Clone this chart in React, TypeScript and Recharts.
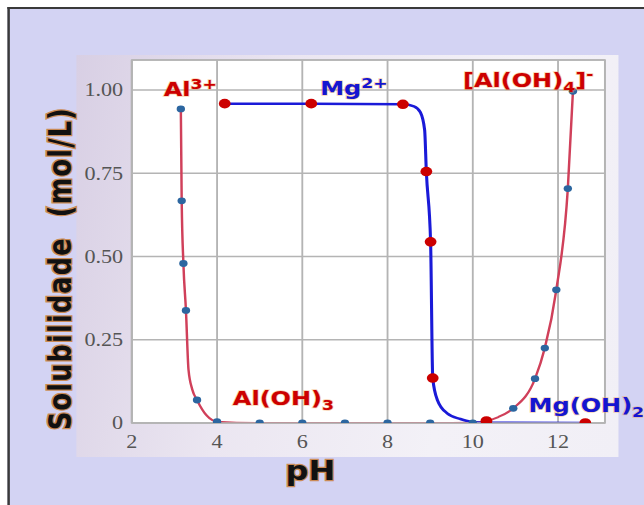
import React from "react";
import {
  ComposedChart,
  Line,
  Scatter,
  XAxis,
  YAxis,
  CartesianGrid,
  ReferenceDot,
  ReferenceArea,
} from "recharts";

const X_TICKS = [2, 4, 6, 8, 10, 12];
const Y_TICKS = [0, 0.25, 0.5, 0.75, 1];

// Al series (blue markers on the red curve)
const alDotPh = [3.15, 3.17, 3.21, 3.27, 3.53, 4.0, 5, 6, 7, 8, 9, 10, 10.95, 11.46, 11.69, 11.96, 12.23, 12.35];
const alDotSol = [0.943, 0.667, 0.479, 0.338, 0.069, 0.004, 0, 0, 0, 0, 0, 0, 0.044, 0.133, 0.225, 0.4, 0.704, 0.996];
const alCurvePh = [3.15, 3.17, 3.21, 3.27, 3.33, 3.42, 3.53, 3.76, 4.0, 5, 6, 7, 8, 9, 10, 10.6, 10.95, 11.46, 11.69, 11.96, 12.23, 12.35];
const alCurveSol = [0.943, 0.667, 0.479, 0.338, 0.16, 0.1, 0.069, 0.022, 0.004, 0, 0, 0, 0, 0, 0.001, 0.018, 0.044, 0.133, 0.225, 0.4, 0.704, 0.996];

// Mg series (red markers on the blue curve)
const mgDotPh = [4.18, 6.21, 8.36, 8.91, 9.01, 9.06, 10.32, 12.64];
const mgDotSol = [0.959, 0.959, 0.957, 0.755, 0.544, 0.135, 0.006, 0];
const mgCurvePh = [4.18, 6.21, 8.36, 8.62, 8.77, 8.87, 8.91, 9.01, 9.06, 9.17, 9.4, 9.71, 9.95, 10.32, 12.64];
const mgCurveSol = [0.959, 0.959, 0.957, 0.951, 0.933, 0.88, 0.755, 0.544, 0.135, 0.069, 0.029, 0.012, 0.004, 0.001, 0];

type Part = { t: string; small?: boolean; dy?: number };
const annotations: { ph: number; sol: number; color: string; parts: Part[] }[] = [
  { ph: 2.75, sol: 0.982, color: "#cc0000", parts: [{ t: "Al" }, { t: "3+", small: true, dy: -7 }] },
  { ph: 6.42, sol: 0.985, color: "#1515d0", parts: [{ t: "Mg" }, { t: "2+", small: true, dy: -7 }] },
  {
    ph: 9.77,
    sol: 1.009,
    color: "#cc0000",
    parts: [{ t: "[Al(OH)" }, { t: "4", small: true, dy: 5 }, { t: "]", dy: -5 }, { t: "-", small: true, dy: -8 }],
  },
  { ph: 4.37, sol: 0.054, color: "#cc0000", parts: [{ t: "Al(OH)" }, { t: "3", small: true, dy: 5 }] },
  { ph: 11.31, sol: 0.033, color: "#1515d0", parts: [{ t: "Mg(OH)" }, { t: "2", small: true, dy: 5 }] },
];

const zip = (xs: number[], ys: number[]) => xs.map((ph, i) => ({ ph, sol: ys[i] }));

const alDots = zip(alDotPh, alDotSol);
const alCurve = zip(alCurvePh, alCurveSol);
const mgDots = zip(mgDotPh, mgDotSol);
const mgCurve = zip(mgCurvePh, mgCurveSol);

// the source image is stretched sideways; reproduce that
const STRETCH = 1.232;

const annoLabel = (a: (typeof annotations)[number]) => (props: any) => {
  const vb = props.viewBox || {};
  const x = vb.x + (vb.width || 0) / 2;
  const y = vb.y + (vb.height || 0) / 2;
  return (
    <text
      x={x}
      y={y}
      fontFamily="DejaVu Sans"
      fontWeight="bold"
      fontSize={19.5}
      fill={a.color}
      stroke="#f0a050"
      strokeOpacity={0.45}
      strokeWidth={1.5}
      paintOrder="stroke"
    >
      {a.parts.map((p, i) => (
        <tspan key={i} fontSize={p.small ? 14 : 19.5} dy={p.dy || 0}>
          {p.t}
        </tspan>
      ))}
    </text>
  );
};

const titleStyle = {
  fontFamily: "DejaVu Sans",
  fontWeight: "bold" as const,
  fill: "#111",
  stroke: "#c8782a",
  strokeWidth: 2.5,
  strokeOpacity: 0.8,
  paintOrder: "stroke" as const,
};

export default function App() {
  return (
    <div style={{ position: "absolute", left: 0, top: 0, width: 644, height: 505, background: "#fff", overflow: "hidden" }}>
      <div
        style={{
          position: "absolute",
          left: 0,
          top: 0,
          width: 644 / STRETCH,
          height: 505,
          transform: `scaleX(${STRETCH})`,
          transformOrigin: "0 0",
        }}
      >
        <div
          style={{
            position: "absolute",
            left: 6,
            top: 7,
            width: 700,
            height: 600,
            borderLeft: "2px solid #3a3a3a",
            borderTop: "2px solid #3a3a3a",
            background: "#d3d3f3",
          }}
        />
        <div
          style={{
            position: "absolute",
            left: 62,
            top: 55,
            width: 440,
            height: 402,
            background: "linear-gradient(100deg, #d8cfe4 0%, #ebe6f1 35%, #f3f1f7 70%, #f1eff6 100%)",
          }}
        />
        <div style={{ position: "absolute", left: 0, top: 0 }}>
          <ComposedChart width={644} height={505} margin={{ top: 60, right: 153, bottom: 48, left: 62 }}>
            <CartesianGrid stroke="#b4b4b4" strokeWidth={1.5} fill="#ffffff" />
            <ReferenceArea x1={2} x2={13.1} y1={0} y2={1.09} fill="none" stroke="#b4b4b4" strokeWidth={1.5} />
            <XAxis
              type="number"
              dataKey="ph"
              domain={[2, 13.1]}
              ticks={X_TICKS}
              allowDataOverflow
              height={34}
              tickSize={0}
              tickMargin={12}
              axisLine={{ stroke: "#b4b4b4", strokeWidth: 1.5 }}
              tick={{ fill: "#555", fontSize: 18, fontFamily: "Liberation Serif" }}
              label={{
                content: (p: any) => {
                  const vb = p.viewBox;
                  return (
                    <text x={vb.x + vb.width / 2 - 47} y={vb.y + vb.height + 23} textAnchor="middle" fontSize={26} {...titleStyle}>
                      pH
                    </text>
                  );
                },
              }}
            />
            <YAxis
              type="number"
              dataKey="sol"
              domain={[0, 1.09]}
              ticks={Y_TICKS}
              allowDataOverflow
              width={45}
              tickSize={0}
              tickMargin={7}
              axisLine={{ stroke: "#b4b4b4", strokeWidth: 1.5 }}
              tickFormatter={(v: number) => (v === 0 ? "0" : v.toFixed(2))}
              tick={{ fill: "#555", fontSize: 18, fontFamily: "Liberation Serif" }}
              label={{
                content: (p: any) => {
                  const vb = p.viewBox;
                  const cx = vb.x - 13;
                  const cy = vb.y + vb.height / 2 + 27;
                  return (
                    <text
                      x={cx}
                      y={cy}
                      transform={`rotate(-90 ${cx} ${cy})`}
                      textAnchor="middle"
                      dominantBaseline="central"
                      fontSize={25.5}
                      letterSpacing={1.2}
                      {...titleStyle}
                    >
                      {"Solubilidade\u00a0\u00a0(mol/L)"}
                    </text>
                  );
                },
              }}
            />
            <Line
              data={alCurve}
              dataKey="sol"
              type="monotone"
              stroke="#d0405a"
              strokeWidth={2}
              dot={false}
              activeDot={false}
              isAnimationActive={false}
            />
            <Line
              data={mgCurve}
              dataKey="sol"
              type="monotone"
              stroke="#1a1ad8"
              strokeWidth={2.5}
              dot={false}
              activeDot={false}
              isAnimationActive={false}
            />
            <Scatter
              data={alDots}
              dataKey="sol"
              isAnimationActive={false}
              shape={(p: any) => <circle cx={p.cx} cy={p.cy} r={3.4} fill="#2c66a0" />}
            />
            <Scatter
              data={mgDots}
              dataKey="sol"
              isAnimationActive={false}
              shape={(p: any) => <circle cx={p.cx} cy={p.cy} r={4.8} fill="#cc0000" />}
            />
            {annotations.map((a, i) => (
              <ReferenceDot
                key={i}
                x={a.ph}
                y={a.sol}
                r={0}
                fill="none"
                stroke="none"
                ifOverflow="visible"
                label={annoLabel(a)}
              />
            ))}
          </ComposedChart>
        </div>
      </div>
    </div>
  );
}
